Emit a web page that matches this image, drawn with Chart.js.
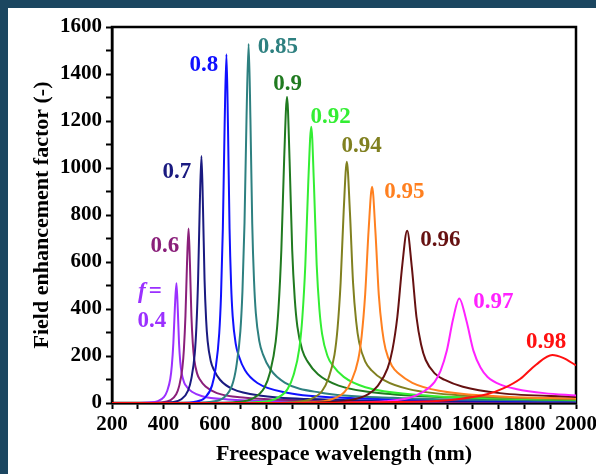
<!DOCTYPE html>
<html lang="en">
<head>
  <meta charset="UTF-8" />
  <title>Field enhancement factor</title>
  <script src="https://cdn.jsdelivr.net/npm/chart.js"></script>
  <style>
    * { box-sizing: border-box; margin: 0; padding: 0; }
    body {
      background: #1b4660;
      width: 596px;
      height: 474px;
      overflow: hidden;
      position: relative;
    }
    .panel {
      position: absolute;
      left: 8px;
      top: 8px;
      width: 588px;
      height: 466px;
      background: #fff;
    }
    .wrap {
      position: absolute;
      left: 0;
      top: 0;
      width: 600px;
      height: 474px;
    }
  </style>
</head>
<body>
  <div class="panel"></div>
  <div class="wrap"><canvas id="chart"></canvas></div>

  <script>
    // filling factors, one curve each
    const fillFactors = ['0.4', '0.6', '0.7', '0.8', '0.85', '0.9', '0.92', '0.94', '0.95', '0.96', '0.97', '0.98'];
    const colors = ['#9b30ff', '#8a1f7a', '#1a1a80', '#1010ff', '#2e8080', '#207a20',
                    '#33ee33', '#808020', '#ff8020', '#661111', '#ff22ff', '#ff1010'];

    // wavelength (nm) / field enhancement
    const wl04 = [200, 306, 342, 378, 402, 414, 426, 432, 438, 444, 450, 455, 460, 465, 470, 480, 490, 510, 550, 650, 850, 1250, 2000];
    const fe04 = [0, 0, 2, 8, 26, 51, 102, 158, 255, 408, 510, 403, 255, 173, 128, 87, 69, 48, 29, 15, 7, 4, 2];

    const wl06 = [200, 353, 389, 425, 449, 461, 473, 479, 485, 491, 497, 502.5, 508, 513.5, 519, 530, 541, 563, 607, 717, 937, 1377, 2000];
    const fe06 = [0, 0, 2, 11, 37, 74, 149, 230, 372, 594, 743, 587, 372, 253, 186, 126, 100, 70, 42, 22, 11, 5, 3];

    const wl07 = [200, 391, 430, 469, 495, 508, 521, 527.5, 534, 540.5, 547, 553, 559, 565, 571, 583, 595, 619, 667, 787, 1027, 1507, 2000];
    const fe07 = [0, 0, 3, 16, 53, 105, 210, 326, 526, 841, 1051, 830, 526, 357, 263, 179, 142, 99, 60, 30, 15, 8, 5];

    const wl08 = [200, 476, 518, 560, 588, 602, 616, 623, 630, 637, 644, 650, 656, 662, 668, 680, 692, 716, 764, 884, 1124, 1604, 2000];
    const fe08 = [0, 0, 4, 22, 74, 148, 297, 460, 742, 1187, 1484, 1172, 742, 505, 371, 252, 200, 139, 85, 43, 21, 11, 8];

    const wl085 = [200, 538, 586, 634, 666, 682, 698, 706, 714, 722, 730, 737, 744, 751, 758, 772, 786, 814, 870, 1010, 1290, 1850, 2000];
    const fe085 = [0, 0, 5, 23, 76, 153, 306, 474, 764, 1222, 1528, 1207, 764, 520, 382, 260, 206, 144, 87, 44, 22, 11, 10];

    const wl09 = [200, 615, 681, 747, 791, 813, 835, 846, 857, 868, 879, 889, 899, 909, 919, 939, 959, 999, 1079, 1279, 1679, 2000];
    const fe09 = [0, 0, 4, 20, 65, 130, 261, 404, 652, 1042, 1303, 1029, 652, 443, 326, 222, 176, 122, 74, 38, 19, 14];

    const wl092 = [200, 697, 766, 835, 881, 904, 927, 938.5, 950, 961.5, 973, 983.5, 994, 1004.5, 1015, 1036, 1057, 1099, 1183, 1393, 1813, 2000];
    const fe092 = [0, 0, 4, 18, 59, 118, 235, 365, 588, 941, 1176, 929, 588, 400, 294, 200, 159, 111, 67, 34, 17, 14];

    const wl094 = [200, 823, 895, 967, 1015, 1039, 1063, 1075, 1087, 1099, 1111, 1123, 1135, 1147, 1159, 1183, 1207, 1255, 1351, 1591, 2000];
    const fe094 = [0, 0, 3, 15, 51, 103, 205, 318, 514, 822, 1027, 811, 514, 349, 257, 175, 139, 97, 59, 30, 16];

    const wl095 = [200, 885, 966, 1047, 1101, 1128, 1155, 1168.5, 1182, 1195.5, 1209, 1222, 1235, 1248, 1261, 1287, 1313, 1365, 1469, 1729, 2000];
    const fe095 = [0, 0, 3, 14, 46, 92, 184, 285, 460, 736, 920, 727, 460, 313, 230, 156, 124, 86, 52, 27, 19];

    const wl096 = [200, 889, 1003, 1117, 1193, 1231, 1269, 1288, 1307, 1326, 1345, 1363, 1381, 1399, 1417, 1453, 1489, 1561, 1705, 2000];
    const fe096 = [0, 0, 2, 11, 37, 73, 147, 227, 367, 586, 733, 579, 367, 249, 183, 125, 99, 69, 42, 26];

    const wl097 = [200, 971, 1115, 1259, 1355, 1403, 1451, 1475, 1499, 1523, 1547, 1574.5, 1602, 1629.5, 1657, 1712, 1767, 1877, 2000];
    const fe097 = [0, 0, 1, 7, 22, 45, 89, 138, 223, 356, 445, 352, 223, 151, 111, 76, 60, 42, 32];

    const wl098 = [200, 1000, 1158, 1408, 1533, 1658, 1720, 1783, 1845, 1908, 1950, 2000];
    const fe098 = [0, 0, 3, 6, 15, 38, 63, 102, 163, 204, 192, 160];

    const curves = [
      [wl04, fe04], [wl06, fe06], [wl07, fe07], [wl08, fe08], [wl085, fe085], [wl09, fe09],
      [wl092, fe092], [wl094, fe094], [wl095, fe095], [wl096, fe096], [wl097, fe097], [wl098, fe098]
    ];

    // where each curve label sits, in data units (wavelength, enhancement)
    const labelAt = [
      [355, 349], [405, 668], [452, 983], [556, 1438], [843, 1515], [881, 1357],
      [1048, 1217], [1168, 1094], [1334, 898], [1474, 694], [1679, 430], [1884, 260]
    ];
    const fEqualsAt = [347, 472];

    const serif = "'Liberation Serif', 'Times New Roman', serif";

    const datasets = curves.map((c, i) => ({
      label: fillFactors[i],
      data: c[0].map((x, k) => ({ x: x, y: c[1][k] })),
      borderColor: colors[i],
      borderWidth: 2,
      pointRadius: 0,
      fill: false,
      cubicInterpolationMode: 'monotone',
      order: curves.length - i
    }));

    // box frame + coloured curve labels
    const framePlugin = {
      id: 'frame',
      beforeDatasetsDraw(chart) {
        const { ctx, chartArea: a } = chart;
        ctx.save();
        ctx.strokeStyle = '#000';
        ctx.lineWidth = 2.5;
        ctx.strokeRect(a.left, a.top, a.right - a.left, a.bottom - a.top);
        ctx.restore();
      },
      afterDatasetsDraw(chart) {
        const { ctx, scales: { x, y } } = chart;
        ctx.save();
        ctx.textAlign = 'center';
        ctx.textBaseline = 'middle';
        ctx.font = 'bold 23px ' + serif;
        labelAt.forEach((p, i) => {
          ctx.fillStyle = colors[i];
          ctx.fillText(fillFactors[i], x.getPixelForValue(p[0]), y.getPixelForValue(p[1]));
        });
        // "f =" above the 0.4 label
        const fx = x.getPixelForValue(fEqualsAt[0]);
        const fy = y.getPixelForValue(fEqualsAt[1]);
        ctx.fillStyle = colors[0];
        ctx.textAlign = 'left';
        ctx.font = 'italic bold 23px ' + serif;
        const fw = ctx.measureText('f').width;
        ctx.font = 'bold 23px ' + serif;
        const ew = ctx.measureText('=').width;
        const start = fx - (fw + 3 + ew) / 2;
        ctx.font = 'italic bold 23px ' + serif;
        ctx.fillText('f', start, fy);
        ctx.font = 'bold 23px ' + serif;
        ctx.fillText('=', start + fw + 3, fy);
        ctx.restore();
      }
    };

    const tickFont = { family: serif, size: 21, weight: 'bold' };
    const titleFont = { family: serif, size: 22, weight: 'bold', lineHeight: 1.2 };

    new Chart(document.getElementById('chart'), {
      type: 'line',
      data: { datasets },
      options: {
        responsive: true,
        maintainAspectRatio: false,
        animation: false,
        layout: { padding: { top: 27, right: 23, left: 0, bottom: 0 } },
        plugins: { legend: { display: false }, tooltip: { enabled: false } },
        scales: {
          x: {
            type: 'linear',
            min: 200,
            max: 2000,
            afterFit(s) { s.height = 71; },
            border: { display: true, color: '#000', width: 2.5 },
            grid: { drawOnChartArea: false, drawTicks: true, tickLength: 6, tickWidth: 2, tickColor: '#000', color: '#000' },
            ticks: {
              stepSize: 100,
              autoSkip: false,
              maxRotation: 0,
              padding: 3,
              color: '#000',
              font: tickFont,
              callback: v => (v % 200 === 0 ? String(v) : '')
            },
            title: {
              display: true,
              text: 'Freespace wavelength (nm)',
              color: '#000',
              font: titleFont,
              padding: { top: 0, bottom: 6 }
            }
          },
          y: {
            min: 0,
            max: 1600,
            afterFit(s) { s.width = 112; },
            border: { display: true, color: '#000', width: 2.5 },
            grid: { drawOnChartArea: false, drawTicks: true, tickLength: 6, tickWidth: 2, tickColor: '#000', color: '#000' },
            ticks: {
              stepSize: 100,
              autoSkip: false,
              padding: 4,
              color: '#000',
              font: tickFont,
              callback: v => (v % 200 === 0 ? String(v) : '')
            },
            title: {
              display: true,
              text: 'Field enhancement factor (-)',
              color: '#000',
              font: titleFont,
              padding: { top: 29, bottom: 0 }
            }
          }
        }
      },
      plugins: [framePlugin]
    });
  </script>
</body>
</html>
